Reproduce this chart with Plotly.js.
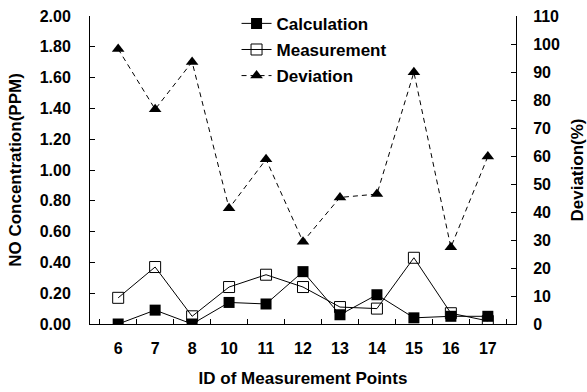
<!DOCTYPE html>
<html>
<head>
<script src="https://cdn.plot.ly/plotly-3.0.1.min.js"></script>
<style>body{margin:0;background:#fff}#chart{width:587px;height:392px}</style>
</head>
<body>
<div id="chart"></div>
<script>
var categories = ['6','7','8','10','11','12','13','14','15','16','17'];
var calculation = [0.00, 0.09, 0.00, 0.14, 0.13, 0.34, 0.06, 0.19, 0.04, 0.05, 0.05];
var measurement = [0.17, 0.37, 0.05, 0.24, 0.32, 0.24, 0.11, 0.10, 0.43, 0.07, 0.02];
var deviation = [98.2, 76.7, 93.6, 41.3, 58.8, 29.4, 45.2, 46.4, 89.9, 27.4, 59.8];
var leftTicks = [0, 0.2, 0.4, 0.6, 0.8, 1.0, 1.2, 1.4, 1.6, 1.8, 2.0];
var rightTicks = [0, 10, 20, 30, 40, 50, 60, 70, 80, 90, 100, 110];

var FAM = 'Liberation Sans, Arial, sans-serif';
function b(s){ return '<b>' + s + '</b>'; }

var traces = [
  {x: categories, y: calculation, name: b('Calculation'), legendgroup: 'a', type: 'scatter', mode: 'lines+markers',
   line: {color: '#000', width: 1}, marker: {symbol: 'square', size: 11, color: '#000'}},
  {x: categories, y: measurement, name: b('Measurement'), legendgroup: 'b', type: 'scatter', mode: 'lines+markers',
   line: {color: '#000', width: 1}, marker: {symbol: 'square-open', size: 11, color: '#000', line: {width: 1}}},
  {x: categories, y: deviation, name: b('Deviation'), legendgroup: 'c', type: 'scatter', mode: 'lines+markers', yaxis: 'y2',
   line: {color: '#000', width: 1, dash: '5px,4px'}, marker: {symbol: 'triangle-up', size: 11, color: '#000'}}
];
var layout = {
  width: 587, height: 392,
  margin: {l: 90, r: 71, t: 16, b: 68, autoexpand: false},
  paper_bgcolor: '#fff', plot_bgcolor: '#fff',
  font: {family: FAM, size: 16, color: '#000'},
  showlegend: true,
  legend: {x: 0.344, y: 1.033, xanchor: 'left', yanchor: 'top', bgcolor: 'rgba(0,0,0,0)',
    tracegroupgap: 1, font: {family: FAM, size: 17, color: '#000', weight: 'bold'}},
  xaxis: {
    type: 'category', categoryorder: 'array', categoryarray: categories,
    tickvals: categories, ticktext: categories.map(b),
    showline: true, linecolor: '#000', linewidth: 1, showgrid: false, zeroline: false,
    ticks: 'inside', tickson: 'boundaries', ticklen: 5, tickcolor: '#000',
    ticklabelstandoff: 10, automargin: false,
    tickfont: {family: FAM, size: 16, color: '#000'},
    title: {text: b('ID of Measurement Points'), standoff: 15,
      font: {family: FAM, size: 17, color: '#000', weight: 'bold'}}
  },
  yaxis: {
    range: [0, 2], tickvals: leftTicks, ticktext: leftTicks.map(function(v){return b(v.toFixed(2));}),
    showline: true, linecolor: '#000', linewidth: 1, showgrid: false, zeroline: false,
    ticks: 'inside', ticklen: 5, tickcolor: '#000',
    ticklabelstandoff: 15, automargin: false,
    tickfont: {family: FAM, size: 16, color: '#000'},
    title: {text: b('NO Concentration(PPM)'), standoff: 13,
      font: {family: FAM, size: 17, color: '#000', weight: 'bold'}}
  },
  yaxis2: {
    overlaying: 'y', side: 'right', range: [0, 110], tickvals: rightTicks, ticktext: rightTicks.map(function(v){return b(String(v));}),
    showline: true, linecolor: '#000', linewidth: 1, showgrid: false, zeroline: false,
    ticks: 'inside', ticklen: 5, tickcolor: '#000',
    ticklabelstandoff: 13, automargin: false,
    tickfont: {family: FAM, size: 16, color: '#000'},
    title: {text: b('Deviation(%)'), standoff: 12,
      font: {family: FAM, size: 17, color: '#000', weight: 'bold'}}
  }
};
Plotly.newPlot('chart', traces, layout, {displayModeBar: false, staticPlot: true});
</script>
</body>
</html>
